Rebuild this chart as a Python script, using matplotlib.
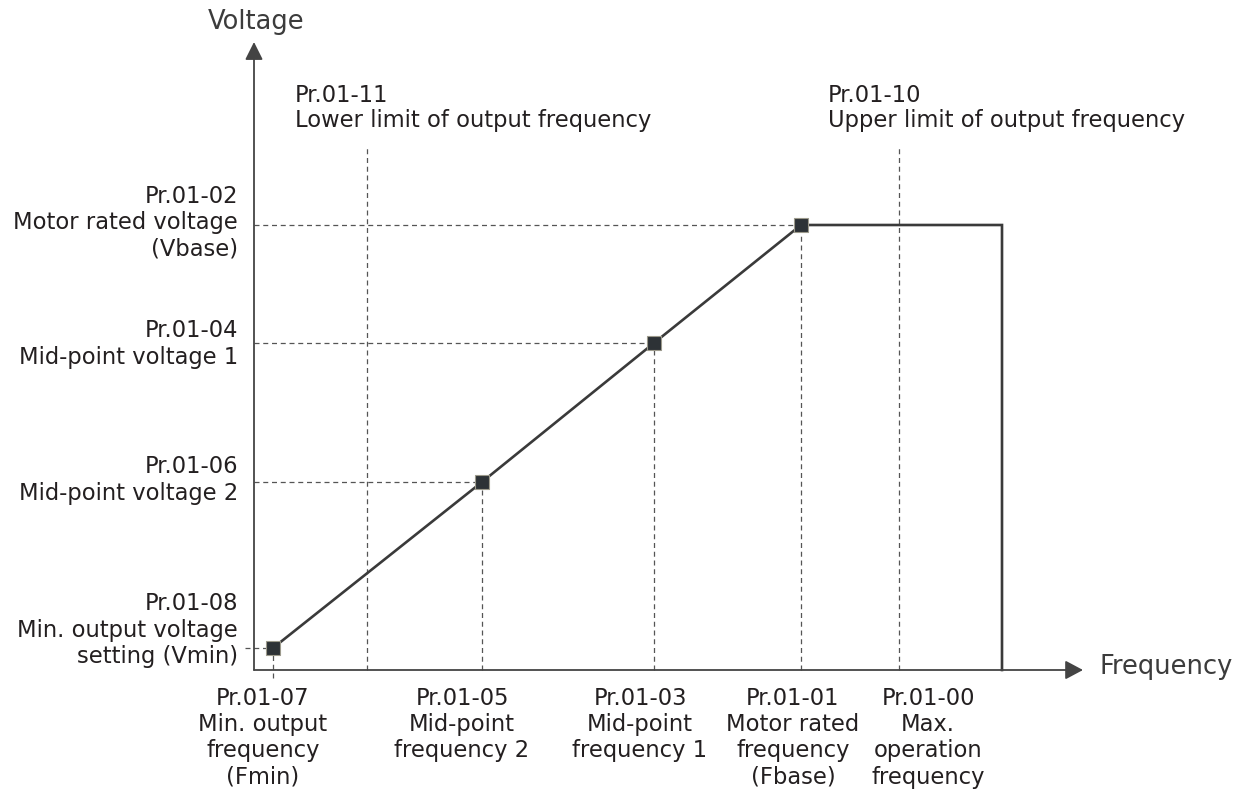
import matplotlib
matplotlib.use('Agg')
import matplotlib.pyplot as plt

# V/f curve (arbitrary units, origin at the axes corner)
f_points = [19, 228, 400, 547]          # Fmin, Fmid2, Fmid1, Fbase
v_points = [22, 188, 327, 445]          # Vmin, Vmid2, Vmid1, Vbase
f_max = 748
f_lower = 113                            # Pr.01-11
f_upper = 645                            # Pr.01-10
limit_top = 522

freq_labels = ['Pr.01-07\nMin. output\nfrequency\n(Fmin)',
               'Pr.01-05\nMid-point\nfrequency 2',
               'Pr.01-03\nMid-point\nfrequency 1',
               'Pr.01-01\nMotor rated\nfrequency\n(Fbase)',
               'Pr.01-00\nMax.\noperation\nfrequency']
freq_label_x = [9, 208, 386, 539, 674]

volt_labels = ['Pr.01-08\nMin. output voltage\nsetting (Vmin)',
               'Pr.01-06\nMid-point voltage 2',
               'Pr.01-04\nMid-point voltage 1',
               'Pr.01-02\nMotor rated voltage\n(Vbase)']
volt_label_y = [40, 190, 326, 447]

limit_labels = ['Pr.01-11\nLower limit of output frequency',
                'Pr.01-10\nUpper limit of output frequency']
limit_label_x = [41, 574]

txt = '#231f20'
ln = '#3a3a3a'
fs = 16.3

fig = plt.figure(figsize=(12.53, 7.91), dpi=100)
ax = fig.add_axes([0, 0, 1, 1])
ax.set_xlim(-254, 999)
ax.set_ylim(-121, 670)
ax.axis('off')

# axes with arrows
ax.annotate('', xy=(0, 628), xytext=(0, 0),
            arrowprops=dict(arrowstyle='-|>,head_length=0.6,head_width=0.3',
                            mutation_scale=18, lw=1.3, color='#444444',
                            shrinkA=0, shrinkB=0))
ax.annotate('', xy=(829, 0), xytext=(0, 0),
            arrowprops=dict(arrowstyle='-|>,head_length=0.6,head_width=0.32',
                            mutation_scale=18, lw=1.3, color='#444444',
                            shrinkA=0, shrinkB=0))

dash = (0, (4, 3))
# guide lines to the axes
for i, (f, v) in enumerate(zip(f_points, v_points)):
    x0 = -9 if i == 0 else 0
    ax.plot([x0, f], [v, v], color='#555555', lw=0.9, ls=dash, zorder=1)
    y0 = -8 if i == 0 else 0
    ax.plot([f, f], [y0, v], color='#555555', lw=0.9, ls=dash, zorder=1)

# frequency limits
for f in [f_lower, f_upper]:
    ax.plot([f, f], [0, limit_top], color='#555555', lw=0.9, ls=dash, zorder=1)

# V/f curve
curve_f = f_points + [f_max, f_max]
curve_v = v_points + [v_points[-1], 0]
ax.plot(curve_f, curve_v, color=ln, lw=1.9, zorder=2, solid_joinstyle='miter')
ax.plot(f_points, v_points, ls='none', marker='s', ms=9.5,
        mfc='#2d3236', mec='#9c9a8c', mew=0.8, zorder=3)

for lab, x in zip(freq_labels, freq_label_x):
    ax.text(x, -17, lab, ha='center', va='top', fontsize=fs, color=txt,
            linespacing=1.18)

for lab, y in zip(volt_labels, volt_label_y):
    ax.text(-16, y, lab, ha='right', va='center', fontsize=fs, color=txt,
            multialignment='right', linespacing=1.18)

for lab, x in zip(limit_labels, limit_label_x):
    ax.text(x, 562, lab, ha='left', va='center', fontsize=fs, color=txt,
            linespacing=1.1)

ax.text(-46, 648, 'Voltage', ha='left', va='center', fontsize=18.5, color='#3c3c3c')
ax.text(846, 3, 'Frequency', ha='left', va='center', fontsize=18.5, color='#3c3c3c')

fig.savefig('out.png', dpi=100, facecolor='white')
